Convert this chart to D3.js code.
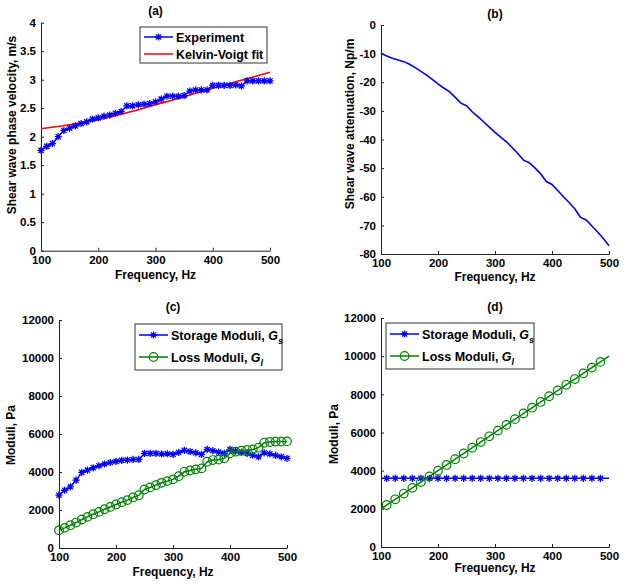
<!DOCTYPE html>
<html>
<head>
<meta charset="utf-8">
<script src="https://cdn.jsdelivr.net/npm/d3@7"></script>
<style>
  html, body { margin: 0; padding: 0; background: #fff; }
  svg { display: block; }
  text, tspan { font-family: "Liberation Sans", Arial, sans-serif; font-weight: bold; fill: #000; }
</style>
</head>
<body>
<svg id="chart" width="624" height="584"></svg>
<script>
// ---------- DATA ----------
const freq10 = [100,110,120,130,140,150,160,170,180,190,200,210,220,230,240,250,260,270,280,290,300,
                310,320,330,340,350,360,370,380,390,400,410,420,430,440,450,460,470,480,490,500];

// (a) shear wave phase velocity, m/s
const velocityExperiment = [1.76,1.83,1.88,2.00,2.11,2.15,2.19,2.23,2.26,2.31,2.33,2.36,2.38,2.41,2.44,
  2.54,2.54,2.56,2.57,2.58,2.61,2.66,2.71,2.71,2.71,2.72,2.80,2.82,2.82,2.82,2.90,2.90,2.90,2.90,2.91,
  2.89,2.98,2.98,2.98,2.98,2.98];
const fitFreq = [100,150,200,250,300,350,400,450,500];
const velocityFit = [2.14,2.21,2.30,2.42,2.56,2.70,2.85,2.99,3.13];

// (b) shear wave attenuation, Np/m
const attenuation = [-9.9,-10.8,-11.6,-12.2,-12.8,-13.7,-14.9,-16.2,-17.5,-19.0,-20.6,-22.0,-23.3,-25.2,
  -27.3,-28.2,-30.3,-32.0,-33.8,-35.7,-37.5,-39.2,-40.8,-42.8,-44.9,-47.2,-48.1,-49.9,-52.0,-54.7,-55.7,
  -57.8,-60.0,-62.0,-64.2,-67.2,-68.1,-70.2,-72.3,-74.6,-77.1];

// (c) moduli from experiment, Pa
const storageC = [2780,3040,3220,3570,3980,4100,4220,4330,4420,4500,4560,4610,4630,4660,4660,4980,4980,
  4980,4950,4960,4930,5030,5140,5070,5010,4930,5190,5120,5050,4980,5190,5100,5030,4980,4890,4800,5010,
  4950,4870,4800,4720];
const lossC = [930,1060,1200,1340,1500,1640,1780,1900,2040,2160,2290,2410,2520,2660,2780,3080,3190,3310,
  3430,3520,3610,3780,4010,4080,4140,4190,4540,4630,4650,4720,4980,5070,5120,5160,5190,5280,5540,5580,
  5600,5600,5610];

// (d) Kelvin-Voigt model moduli, Pa
const freqLineD = [100, 500];
const storageLineD = [3600, 3600];
const lossLineD = [2000, 10000];
const freqMarkD = [110,125,140,155,170,185,200,215,230,245,260,275,290,305,320,335,350,365,380,395,410,
  425,440,455,470,485];
const storageMarkD = [3600,3600,3600,3600,3600,3600,3600,3600,3600,3600,3600,3600,3600,3600,3600,3600,
  3600,3600,3600,3600,3600,3600,3600,3600,3600,3600];
const lossMarkD = [2200,2500,2800,3100,3400,3700,4000,4300,4600,4900,5200,5500,5800,6100,6400,6700,7000,
  7300,7600,7900,8200,8500,8800,9100,9400,9700];

const xTicks = [100,200,300,400,500];
const yTicksA = [0,0.5,1,1.5,2,2.5,3,3.5,4];
const yTicksB = [0,-10,-20,-30,-40,-50,-60,-70,-80];
const yTicksCD = [0,2000,4000,6000,8000,10000,12000];

const titles = ["(a)","(b)","(c)","(d)"];
const xLabel = "Frequency, Hz";
const yLabels = ["Shear wave phase velocity, m/s","Shear wave attenuation, Np/m","Moduli, Pa","Moduli, Pa"];

// ---------- DRAWING ----------
const svg = d3.select("#chart");
const BLUE = "#0000ff", RED = "#ff0000", GREEN = "#008000";
const FONT = '"Liberation Sans", Arial, sans-serif';

function starPath(r) {
  const d = r * 0.72;
  return `M${-r},0L${r},0M0,${-r}L0,${r}M${-d},${-d}L${d},${d}M${-d},${d}L${d},${-d}`;
}

function panel(cfg) {
  const x = d3.scaleLinear().domain([100, 500]).range([cfg.left, cfg.right]);
  const y = d3.scaleLinear().domain(cfg.yDomain).range([cfg.bottom, cfg.top]);
  const g = svg.append("g");

  const ax = g.append("g").attr("transform", `translate(0,${cfg.bottom})`)
    .call(d3.axisBottom(x).tickValues(xTicks).tickFormat(d3.format("d"))
      .tickSizeInner(-3).tickSizeOuter(0).tickPadding(5));
  const ay = g.append("g").attr("transform", `translate(${cfg.left},0)`)
    .call(d3.axisLeft(y).tickValues(cfg.yTicks).tickFormat(d => String(d))
      .tickSizeInner(-3).tickSizeOuter(0).tickPadding(5));
  [ax, ay].forEach(a => {
    a.selectAll("text").style("font-size", "11.5px").style("font-family", FONT)
      .style("font-weight", "bold").attr("fill", "#000");
    a.selectAll("path,line").attr("stroke", "#222");
  });

  g.append("text").attr("x", (cfg.left + cfg.right) / 2).attr("y", cfg.titleY)
    .attr("text-anchor", "middle").style("font-size", "12px").text(cfg.title);
  g.append("text").attr("x", (cfg.left + cfg.right) / 2).attr("y", cfg.xLabelY)
    .attr("text-anchor", "middle").style("font-size", "12px").text(xLabel);
  g.append("text").attr("transform", `translate(${cfg.yLabelX},${cfg.yLabelY}) rotate(-90)`)
    .attr("dy", "0.35em").attr("text-anchor", "middle").style("font-size", "12px").text(cfg.yLabel);

  return { g, x, y };
}

function drawLine(p, xs, ys, color, width, curve) {
  const line = d3.line().x((d, i) => p.x(xs[i])).y(d => p.y(d)).curve(curve || d3.curveLinear);
  p.g.append("path").datum(ys).attr("d", line).attr("fill", "none")
    .attr("stroke", color).attr("stroke-width", width);
}
function drawStars(p, xs, ys, color) {
  p.g.append("g").selectAll("path").data(ys).join("path")
    .attr("transform", (d, i) => `translate(${p.x(xs[i])},${p.y(d)})`)
    .attr("d", starPath(3.6)).attr("stroke", color).attr("stroke-width", 1.3).attr("fill", "none");
}
function drawCircles(p, xs, ys, color) {
  p.g.append("g").selectAll("circle").data(ys).join("circle")
    .attr("cx", (d, i) => p.x(xs[i])).attr("cy", d => p.y(d)).attr("r", 4.3)
    .attr("stroke", color).attr("stroke-width", 1.2).attr("fill", "none");
}

function legend(p, box, items) {
  const lg = p.g.append("g");
  lg.append("rect").attr("x", box.x).attr("y", box.y).attr("width", box.w).attr("height", box.h)
    .attr("fill", "#fff").attr("stroke", "#333").attr("stroke-width", 1);
  items.forEach((it, i) => {
    const yy = box.y + box.row0 + i * box.rowGap;
    lg.append("line").attr("x1", box.x + 4).attr("x2", box.x + 33).attr("y1", yy).attr("y2", yy)
      .attr("stroke", it.color).attr("stroke-width", 1.5);
    const mx = box.x + 18.5;
    if (it.marker === "star") {
      lg.append("path").attr("transform", `translate(${mx},${yy})`).attr("d", starPath(3.6))
        .attr("stroke", it.color).attr("stroke-width", 1.3).attr("fill", "none");
    } else if (it.marker === "circle") {
      lg.append("circle").attr("cx", mx).attr("cy", yy).attr("r", 4.3)
        .attr("stroke", it.color).attr("stroke-width", 1.2).attr("fill", "none");
    }
    const t = lg.append("text").attr("x", box.x + 36).attr("y", yy + 4.5)
      .style("font-size", "12.5px").style("font-weight", "bold");
    t.append("tspan").style("font-weight", "bold").text(it.label);
    if (it.sym) {
      t.append("tspan").style("font-style", "italic").style("font-weight", "bold").text(it.sym);
      t.append("tspan").style("font-style", "italic").style("font-weight", "bold").style("font-size", "9px")
        .attr("dy", 4).text(it.sub);
    }
  });
}

// Panel (a)
const pa = panel({ left: 41, right: 270, top: 22.7, bottom: 250.7, yDomain: [0, 4], yTicks: yTicksA,
  title: titles[0], titleY: 15, xLabelY: 279, yLabelX: 12, yLabelY: 125, yLabel: yLabels[0] });
drawLine(pa, fitFreq, velocityFit, RED, 1.6, d3.curveMonotoneX);
drawLine(pa, freq10, velocityExperiment, BLUE, 1.5);
drawStars(pa, freq10, velocityExperiment, BLUE);
legend(pa, { x: 140, y: 27, w: 127, h: 36, row0: 10, rowGap: 17 }, [
  { label: "Experiment", color: BLUE, marker: "star" },
  { label: "Kelvin-Voigt fit", color: RED, marker: null }
]);

// Panel (b)
const pb = panel({ left: 381, right: 609, top: 25, bottom: 254, yDomain: [-80, 0], yTicks: yTicksB,
  title: titles[1], titleY: 18, xLabelY: 281, yLabelX: 349.5, yLabelY: 124, yLabel: yLabels[1] });
drawLine(pb, freq10, attenuation, BLUE, 1.6);

// Panel (c)
const pc = panel({ left: 59, right: 287, top: 320, bottom: 548, yDomain: [0, 12000], yTicks: yTicksCD,
  title: titles[2], titleY: 311, xLabelY: 576, yLabelX: 11, yLabelY: 435, yLabel: yLabels[2] });
drawLine(pc, freq10, storageC, BLUE, 1.5);
drawStars(pc, freq10, storageC, BLUE);
drawLine(pc, freq10, lossC, GREEN, 1.5);
drawCircles(pc, freq10, lossC, GREEN);
legend(pc, { x: 135, y: 324, w: 147, h: 46, row0: 11, rowGap: 22 }, [
  { label: "Storage Moduli, ", sym: "G", sub: "s", color: BLUE, marker: "star" },
  { label: "Loss Moduli, ", sym: "G", sub: "l", color: GREEN, marker: "circle" }
]);

// Panel (d)
const pd = panel({ left: 381, right: 609, top: 318, bottom: 547, yDomain: [0, 12000], yTicks: yTicksCD,
  title: titles[3], titleY: 311, xLabelY: 572, yLabelX: 334, yLabelY: 434, yLabel: yLabels[3] });
drawLine(pd, freqLineD, storageLineD, BLUE, 1.5);
drawStars(pd, freqMarkD, storageMarkD, BLUE);
drawLine(pd, freqLineD, lossLineD, GREEN, 1.5);
drawCircles(pd, freqMarkD, lossMarkD, GREEN);
legend(pd, { x: 386, y: 323, w: 148, h: 46, row0: 11, rowGap: 22 }, [
  { label: "Storage Moduli, ", sym: "G", sub: "s", color: BLUE, marker: "star" },
  { label: "Loss Moduli, ", sym: "G", sub: "l", color: GREEN, marker: "circle" }
]);
</script>
</body>
</html>
